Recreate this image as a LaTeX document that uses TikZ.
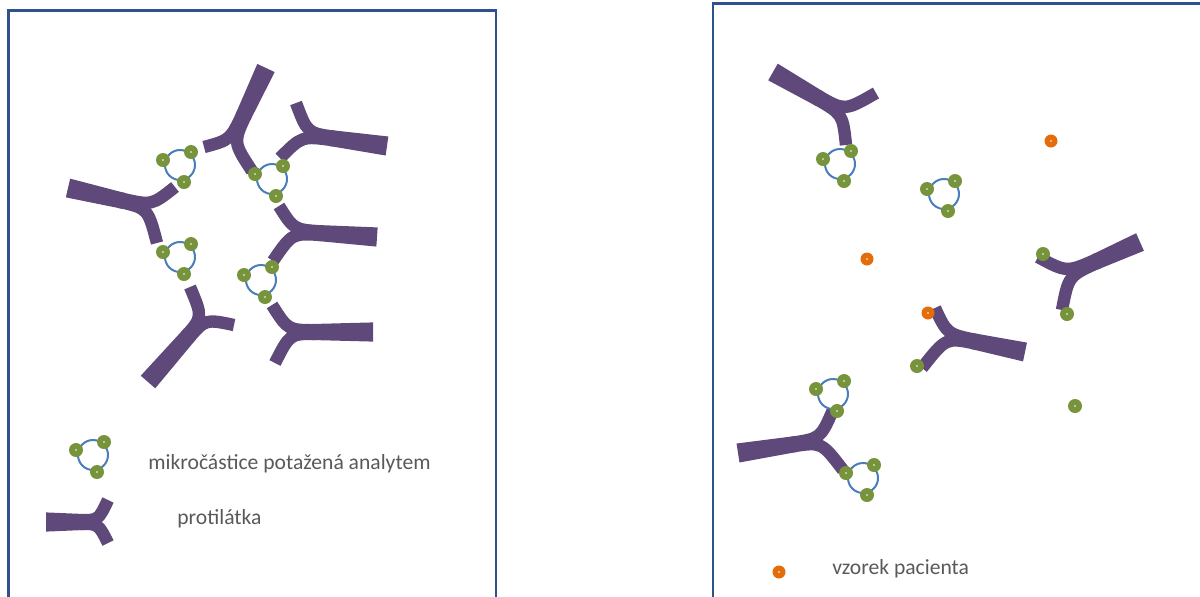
\documentclass[tikz,border=0pt]{standalone}
\usepackage{fontspec}
\setmainfont{Carlito}
\usetikzlibrary{calc}

\definecolor{abpurple}{HTML}{5F497A}
\definecolor{beadgreen}{HTML}{77933C}
\definecolor{ringblue}{HTML}{4A7EBB}
\definecolor{sampleorange}{HTML}{E46C0A}
\definecolor{frameblue}{HTML}{2F528F}
\definecolor{labelgray}{HTML}{595959}

\tikzset{
  armline/.style={draw=abpurple, line width=6.2pt},
  ringline/.style={draw=ringblue, line width=1pt},
  frameline/.style={draw=frameblue, line width=1.3pt},
  legendtext/.style={text=labelgray, inner sep=0pt, font=\fontsize{10.8pt}{13pt}\selectfont},
  pics/analyte/.style={code={
      \fill[beadgreen] (0,0) circle (7);
      \fill[white] (0,0) circle (0.9);}},
  pics/sample/.style={code={
      \fill[sampleorange] (0,0) circle (6.5);
      \fill[white] (0,0) circle (0.9);}},
  pics/bead/.style={code={
      \draw[ringline] (0,0) circle (15);
      \pic at (-17,-5) {analyte};
      \pic at (11,-13) {analyte};
      \pic at (4,17) {analyte};}},
}

% one arm of an antibody: #1 arm end, #2 name suffix.
% It leaves the fork along the stem axis, shifted sideways so that its
% outer edge continues the edge of the stem, and bends towards its end.
\newcommand\abarm[2]{%
  \coordinate (ab-#2) at #1;
  \coordinate (ab-#2x) at ($(ab-f)!(ab-#2)!(ab-e)$);
  \coordinate (ab-#2d) at ($(ab-s)+(ab-#2)-(ab-#2x)$);
  \coordinate (ab-#2s) at ($(ab-s)!0.9pt!(ab-#2d)$);
  \coordinate (ab-#2c) at ($(ab-f)!0.6!(ab-#2x)+(ab-#2s)-(ab-s)$);
  \draw[armline] (ab-#2s) .. controls (ab-#2c) .. (ab-#2);
}
% antibody: #1 stem base, #2 fork, #3 and #4 ends of the two arms
\newcommand\abdraw[4]{%
  \coordinate (ab-b) at #1;
  \coordinate (ab-f) at #2;
  \fill[abpurple] ($(ab-b)!4.8pt!90:(ab-f)$) -- ($(ab-f)!4pt!-90:(ab-b)$)
     -- ($(ab-f)!4pt!90:(ab-b)$) -- ($(ab-b)!4.8pt!-90:(ab-f)$) -- cycle;
  \coordinate (ab-e) at ($(ab-f)!-10pt!(ab-b)$);
  \coordinate (ab-s) at ($(ab-f)!2pt!(ab-b)$);
  \abarm{#3}{p}
  \abarm{#4}{q}
}

\begin{document}
\begin{tikzpicture}[x=0.5pt, y=-0.5pt]
\useasboundingbox (0,0) rectangle (1200,596);
\clip (0,0) rectangle (1200,596);

% frames of the two panels
\draw[frameline] (8.5,10.5) rectangle (496,640);
\draw[frameline] (713,3.5) rectangle (1230,640);

% ---- left panel: antibodies bound to coated microparticles ----
\abdraw{(266,68)}{(243,117)}{(204,147)}{(252,171)}
\abdraw{(68,188)}{(124,201)}{(175,187)}{(157,243)}
\abdraw{(148,382)}{(190,334)}{(190,287)}{(234,325)}
\abdraw{(387,146)}{(330,138)}{(296,103)}{(280,158)}
\abdraw{(377,237)}{(318,233)}{(279,206)}{(273,261)}
\abdraw{(373,332)}{(312,332)}{(272,305)}{(275,363)}

\pic at (180,165) {bead};
\pic at (272,179) {bead};
\pic at (180,257) {bead};
\pic at (261,280) {bead};

% legend of the left panel
\abdraw{(46,522)}{(84,522)}{(108,500)}{(108,543)}
\pic at (93,455) {bead};
\node[legendtext, anchor=base west] (lbead) at (148,469) {mikročástice potažená analytem};
\node[legendtext, anchor=base west] (lab) at (177,524) {protilátka};

% ---- right panel: patient sample competing for the antibodies ----
\abdraw{(773,72)}{(820,99)}{(876,93)}{(846,145)}
\abdraw{(1140,242)}{(1095,262)}{(1038,257)}{(1062,310)}
\abdraw{(1025,352)}{(972,341)}{(935,308)}{(922,368)}
\abdraw{(738,453)}{(796,444)}{(833,410)}{(843,470)}

\pic at (840,164) {bead};
\pic at (944,194) {bead};
\pic at (833,394) {bead};
\pic at (863,478) {bead};

\pic at (1043,254) {analyte};
\pic at (1067,314) {analyte};
\pic at (917,366) {analyte};
\pic at (1075,406) {analyte};

\pic at (1051,141) {sample};
\pic at (867,259) {sample};
\pic at (928,313) {sample};

% legend of the right panel
\pic at (779,572) {sample};
\node[legendtext, anchor=base west] (lsample) at (832,574) {vzorek pacienta};
\end{tikzpicture}
\end{document}
